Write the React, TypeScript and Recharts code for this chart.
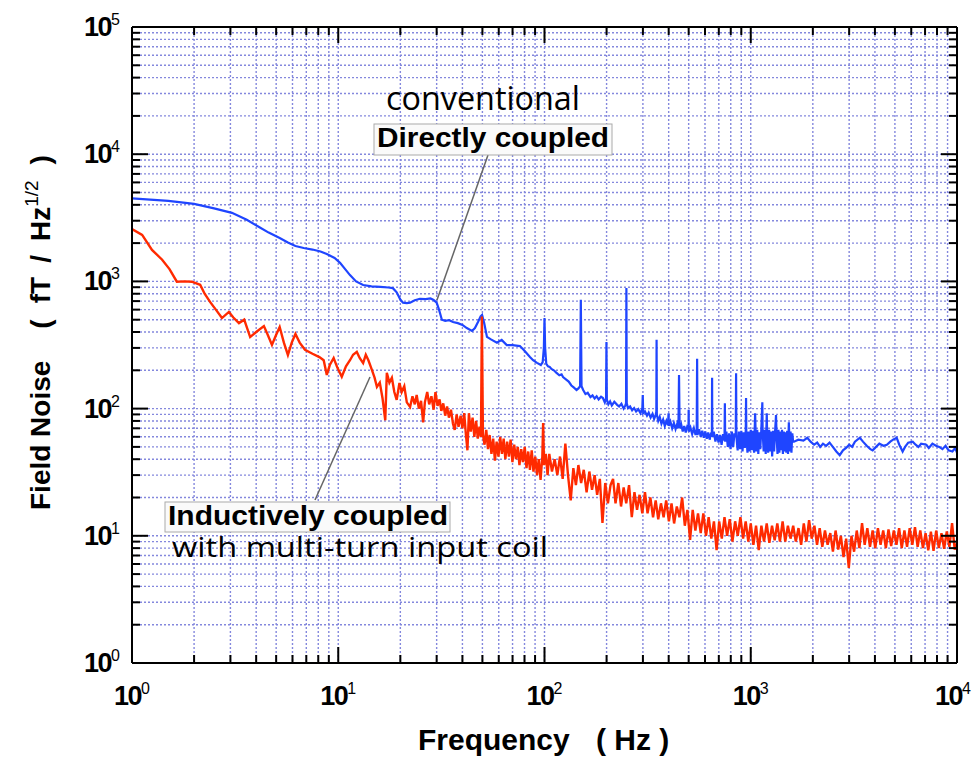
import { CartesianGrid, Line, LineChart, XAxis, YAxis } from 'recharts';

// tick layout (log decades, minor ticks at 2..9)
const xDecades = [1, 10, 100, 1000];
const yDecades = [1, 10, 100, 1000, 10000];
const mantissas = [1, 2, 3, 4, 5, 6, 7, 8, 9];
const xMajor = [1, 10, 100, 1000, 10000];
const yMajor = [1, 10, 100, 1000, 10000, 100000];

// conventional / directly coupled  [Hz, fT/Hz^1/2]
const blueLow: [number, number][] = [
  [1, 4500], [1.5, 4300], [2.0, 4070], [2.5, 3750], [3.05, 3460], [3.6, 3050], [4.13, 2680],
  [4.6, 2420], [5.2, 2190], [5.7, 2020], [6.2, 1900], [6.8, 1830], [7.5, 1780], [8.2, 1720],
  [8.8, 1640], [9.6, 1530], [10.2, 1400], [10.8, 1250], [11.4, 1120], [12.2, 1000], [13.2, 936],
  [14.5, 915], [16, 905], [17.5, 895], [18.4, 885], [19.2, 820], [20, 720], [20.6, 680],
  [21.5, 675], [22.3, 680], [23.5, 710], [24.9, 730], [26.5, 725], [28, 735], [29, 715],
  [30, 680], [30.8, 600], [31.8, 500], [33, 490], [34.5, 495], [36, 480], [38, 470], [40, 455],
  [42, 430], [44.5, 408], [46, 430], [47.6, 480], [49, 530], [49.8, 545], [51, 470], [52.6, 366],
  [55, 350], [58.8, 330], [62, 347], [65.6, 316], [70, 315], [76, 310], [80, 285], [85, 255],
  [88, 240], [92, 229],
];

const blueMid: [number, number][] = [
  [96, 220], [98, 232], [99.3, 300], [100, 515], [100.7, 300], [102, 225], [104, 215], [106, 213],
  [108, 205], [111, 200], [114, 192], [118, 183], [121, 186], [123, 177], [127, 170], [131, 163],
  [135, 152], [139, 146], [143, 140], [146, 144], [148.8, 150], [150, 716], [151.2, 150], [154, 140],
  [158, 130], [162, 133], [167, 123], [171, 127], [175, 120], [179, 125], [183, 118], [188, 124],
  [192, 121], [196, 112], [198.8, 120], [199.7, 334], [200.6, 118], [204, 108], [208, 114],
  [212, 106], [218, 113], [225, 107], [230, 104], [236, 109], [242, 100], [246, 105], [248.5, 110],
  [249.5, 888], [250.5, 110], [254, 101], [260, 104], [266, 97], [272, 101], [278, 95], [285, 99],
  [292, 92], [298, 100], [299.5, 128], [301, 92], [307, 95], [314, 88], [320, 93], [327, 85],
  [334, 91], [340, 83], [346, 89], [348.5, 95], [349.5, 347], [350.5, 90], [356, 80], [362, 86],
  [369, 76], [376, 82], [383, 73], [390, 80], [397, 74], [399.5, 92], [401, 73], [408, 79],
  [416, 70], [424, 77], [432, 69], [440, 76], [446, 70], [449, 184], [452, 70], [460, 75],
  [468, 66], [476, 73], [484, 65], [492, 72], [499, 70], [500, 98], [501, 66], [510, 71], [520, 63],
  [530, 70], [540, 62], [547, 68], [549.5, 246], [552, 62], [562, 69], [572, 60], [582, 67],
  [592, 59], [602, 66], [612, 58], [622, 65], [632, 57], [642, 64], [648, 65], [649.5, 175],
  [651, 60], [662, 66], [674, 55], [686, 63], [698, 54], [710, 62], [722, 52], [734, 63], [746, 56],
  [749, 110], [752, 55], [762, 66], [774, 50], [786, 64], [798, 48], [810, 66], [822, 50], [834, 64],
  [846, 60], [849, 190], [852, 60], [864, 47], [876, 66], [888, 48], [900, 67], [912, 46], [924, 65],
  [936, 49], [946, 68], [949, 121], [952, 62], [964, 45], [976, 66], [988, 46], [1000, 68],
  [1012, 47], [1025, 67], [1038, 45], [1050, 92], [1062, 46], [1075, 68], [1088, 44], [1100, 65],
  [1112, 48], [1125, 68], [1138, 112], [1142, 66], [1155, 46], [1168, 68], [1182, 44], [1196, 92],
  [1200, 65], [1214, 45], [1228, 68], [1242, 46], [1256, 66], [1270, 42], [1284, 67], [1298, 46],
  [1312, 66], [1326, 89], [1334, 62], [1348, 44], [1362, 68], [1376, 45], [1390, 66], [1404, 47],
  [1418, 68], [1432, 44], [1446, 66], [1460, 46], [1474, 65], [1488, 45], [1502, 67], [1516, 44],
  [1530, 78], [1545, 46], [1560, 66], [1575, 45], [1590, 64], [1605, 55],
];

const blueHigh: [number, number][] = [
  [1620, 55], [1700, 57], [1800, 56], [1880, 59], [1950, 55], [2030, 52], [2100, 54], [2170, 50],
  [2240, 53], [2320, 51], [2410, 54], [2500, 50], [2600, 46], [2700, 43], [2800, 47], [2900, 49],
  [3000, 52], [3100, 50], [3200, 55], [3380, 59], [3500, 55], [3650, 51], [3800, 48], [3900, 47],
  [4050, 50], [4200, 53], [4400, 51], [4570, 52], [4750, 55], [4900, 57], [5100, 59], [5250, 52],
  [5450, 46], [5600, 50], [5800, 54], [6100, 55], [6300, 52], [6500, 50], [6700, 53], [7100, 52],
  [7300, 49], [7600, 53], [7900, 51], [8200, 50], [8500, 48], [8800, 51], [9100, 47], [9500, 46],
  [9800, 49], [10000, 45],
];

// inductively coupled, multi-turn input coil
const redLow: [number, number][] = [
  [1, 2580], [1.12, 2320], [1.25, 1770], [1.4, 1480], [1.52, 1250], [1.65, 995], [1.8, 1000],
  [1.95, 995], [2.14, 940], [2.25, 800], [2.39, 690], [2.55, 600], [2.73, 515], [2.95, 575],
  [3.1, 520], [3.3, 470], [3.5, 500], [3.74, 365], [4.0, 400], [4.36, 445], [4.55, 380],
  [4.77, 317], [5.0, 380], [5.2, 438], [5.45, 330], [5.7, 264], [5.95, 330], [6.2, 386],
  [6.5, 330], [6.9, 290], [7.5, 270], [8.1, 254], [8.5, 240], [8.8, 184], [9.1, 220], [9.5, 250],
  [9.9, 210], [10.4, 178], [10.9, 215], [11.4, 240], [11.8, 265],
];

const redMid: [number, number][] = [
  [12.3, 279], [12.7, 250], [13.2, 228], [13.6, 265], [14, 240], [14.5, 205], [15, 175],
  [15.4, 148], [15.9, 160], [16.4, 120], [16.9, 81], [17.2, 191], [17.7, 160], [18.2, 175],
  [18.7, 135], [19.2, 117], [19.8, 159], [20.3, 135], [20.9, 150], [21.5, 112], [22.3, 103],
  [22.9, 125], [23.5, 108], [24, 128], [24.6, 100], [25.2, 115], [25.8, 78], [26.3, 112], [27, 135],
  [27.6, 108], [28.3, 125], [29, 98], [29.6, 135], [30.3, 105], [31, 118], [31.6, 96], [32.3, 110],
  [33, 88], [33.7, 104], [34.4, 85], [35.2, 98], [36, 76], [36.7, 68], [37.5, 90], [38.3, 72],
  [39.2, 88], [40, 70], [40.8, 92], [41.6, 62], [42.3, 47], [43, 92], [43.9, 66], [44.8, 85],
  [45.7, 60], [46.6, 80], [47.5, 58], [48.4, 72], [49.2, 60], [49.7, 530], [50.3, 62], [51.2, 52],
  [52.2, 68], [53.2, 48], [54.2, 62], [55.3, 44], [56.4, 58], [57.5, 39], [58.6, 55], [59.8, 42],
  [61, 60], [62.2, 44], [63.4, 58], [64.6, 40], [65.9, 55], [67.2, 42], [68.5, 57], [69.9, 38],
  [71.3, 52], [72.7, 40], [74.2, 50], [75.6, 36], [77.1, 48], [78.6, 38], [80.2, 50], [81.8, 34],
  [83.4, 46], [85, 33], [86.7, 47], [88.4, 32], [90.2, 42], [92, 30], [93.8, 40], [95.7, 27.5],
  [97.6, 42], [98.5, 77], [99.5, 36], [101.5, 44], [103.5, 30],
];

const redHigh: [number, number][] = [
  [105.5, 44], [108.7, 32], [112, 40], [115.4, 30], [118.9, 42], [122.5, 28], [126.2, 53], [130, 30],
  [134, 19], [138, 34], [142, 25], [146, 36], [150.5, 26], [155, 33], [160, 22], [165, 32], [170, 23],
  [175, 30], [180, 21], [185.5, 28], [191, 12.6], [197, 26], [203, 18], [209, 25], [215, 28],
  [221, 18], [228, 26], [235, 17], [242, 24], [249, 18], [257, 25], [265, 14], [273, 22], [281, 16],
  [289, 21], [298, 15], [307, 22], [316, 15], [326, 20], [336, 14], [346, 19], [356, 13.5], [367, 18],
  [378, 14], [389, 19], [401, 13], [413, 18], [425, 12.5], [438, 17], [451, 14], [465, 20], [479, 12],
  [493, 16], [508, 9.3], [523, 16], [539, 11], [555, 15], [572, 10.5], [589, 15], [607, 10],
  [625, 14], [644, 9.5], [663, 13], [683, 7.7], [703, 13], [724, 9.5], [746, 14], [768, 10],
  [791, 13.5], [815, 9], [840, 13], [865, 10], [891, 14], [918, 9.5], [945, 13], [973, 9],
  [1000, 12.5], [1030, 8.5], [1061, 12], [1093, 7.7], [1126, 12], [1160, 9], [1195, 12.5],
  [1231, 8.8], [1268, 12], [1306, 9.2], [1345, 12.5], [1385, 9], [1427, 13], [1470, 9], [1514, 12],
  [1559, 9.5], [1606, 12], [1654, 9], [1704, 11.5], [1755, 8.5], [1808, 12.5], [1862, 9],
  [1918, 13.3], [1975, 9.5], [2035, 12], [2096, 8.5], [2159, 11.5], [2223, 8.2], [2290, 11],
  [2359, 8.5], [2430, 10.5], [2503, 7.5], [2578, 11], [2655, 7.8], [2735, 10], [2817, 6.8],
  [2901, 9.5], [2988, 5.6], [3078, 10], [3170, 7.5], [3265, 11], [3363, 8], [3464, 12.6], [3568, 8.5],
  [3675, 11.5], [3785, 8.2], [3899, 11], [4016, 8], [4136, 11.5], [4260, 8.5], [4388, 11], [4520, 8],
  [4655, 11.2], [4795, 8.3], [4939, 11], [5087, 8.5], [5240, 11.5], [5397, 8], [5559, 11],
  [5726, 8.2], [5897, 11.5], [6074, 8.5], [6256, 11.7], [6444, 8.2], [6638, 11], [6837, 8],
  [7042, 10.5], [7253, 7.7], [7471, 10.8], [7695, 7.6], [7926, 11], [8164, 8], [8409, 10.5],
  [8661, 7.9], [8921, 10.8], [9189, 8.2], [9464, 12.6], [9748, 7.8], [10000, 8.8],
];

const toRows = (pts: [number, number][]) => pts.map(([f, v]) => ({ f, v }));
const blueData = toRows([...blueLow, ...blueMid, ...blueHigh]);
const redData = toRows([...redLow, ...redMid, ...redHigh]);

const xTicks = [...xDecades.flatMap((d) => mantissas.map((m) => d * m)), 10000];
const yTicks = [...yDecades.flatMap((d) => mantissas.map((m) => d * m)), 100000];

const BLUE = '#1f45ff';
const RED = '#ff2a00';
const GRID = '#8488dd';
const LABEL_FONT = "'Liberation Sans', Arial, sans-serif";

const Pow = ({ x, y, v, anchor }: { x: number; y: number; v: number; anchor: 'end' | 'middle' }) => (
  <text x={x} y={y} textAnchor={anchor} fontFamily={LABEL_FONT} fill="#000">
    <tspan fontSize={27} fontWeight="bold" letterSpacing={-1.5}>10</tspan>
    <tspan fontSize={16} dy={-11}>{Math.round(Math.log10(v))}</tspan>
  </text>
);

const LeftTick = (props: any) => {
  const { x, y, payload } = props;
  const major = yMajor.includes(payload.value);
  return (
    <g>
      <line x1={x} x2={x + (major ? 16 : 8)} y1={y} y2={y} stroke="#000" strokeWidth={2} />
      {major && <Pow x={x - 12} y={y + 9} v={payload.value} anchor="end" />}
    </g>
  );
};

const RightTick = (props: any) => {
  const { x, y, payload } = props;
  const major = yMajor.includes(payload.value);
  return <line x1={x} x2={x - (major ? 16 : 8)} y1={y} y2={y} stroke="#000" strokeWidth={2} />;
};

const BottomTick = (props: any) => {
  const { x, y, payload } = props;
  const major = xMajor.includes(payload.value);
  // the last decade label would run off the page edge, so pin it to the right
  const last = payload.value === 10000;
  return (
    <g>
      <line x1={x} x2={x} y1={y} y2={y - (major ? 16 : 8)} stroke="#000" strokeWidth={2} />
      {major && (
        <Pow x={last ? 971 : x} y={y + 42} v={payload.value} anchor={last ? 'end' : 'middle'} />
      )}
    </g>
  );
};

const TopTick = (props: any) => {
  const { x, y, payload } = props;
  const major = xMajor.includes(payload.value);
  return <line x1={x} x2={x} y1={y} y2={y + (major ? 16 : 8)} stroke="#000" strokeWidth={2} />;
};

const axisLine = { stroke: '#000', strokeWidth: 2 };

const App = () => {
  return (
    <div style={{ position: 'absolute', left: 0, top: 0, width: 973, height: 757 }}>
      <LineChart width={973} height={757} margin={{ top: 26, right: 15, bottom: 93, left: 131 }}>
        <CartesianGrid stroke={GRID} strokeDasharray="2 2" strokeWidth={1.4} />
        <XAxis
          dataKey="f"
          type="number"
          scale="log"
          domain={[1, 10000]}
          ticks={xTicks}
          interval={0}
          height={1}
          tickSize={0}
          tickMargin={0}
          tickLine={false}
          tick={<BottomTick />}
          axisLine={axisLine}
          allowDataOverflow
        />
        <XAxis
          xAxisId="top"
          orientation="top"
          dataKey="f"
          type="number"
          scale="log"
          domain={[1, 10000]}
          ticks={xTicks}
          interval={0}
          height={1}
          tickSize={0}
          tickMargin={0}
          tickLine={false}
          tick={<TopTick />}
          axisLine={axisLine}
          allowDataOverflow
        />
        <YAxis
          type="number"
          scale="log"
          domain={[1, 100000]}
          ticks={yTicks}
          interval={0}
          width={1}
          tickSize={0}
          tickMargin={0}
          tickLine={false}
          tick={<LeftTick />}
          axisLine={axisLine}
          allowDataOverflow
        />
        <YAxis
          yAxisId="right"
          orientation="right"
          type="number"
          scale="log"
          domain={[1, 100000]}
          ticks={yTicks}
          interval={0}
          width={1}
          tickSize={0}
          tickMargin={0}
          tickLine={false}
          tick={<RightTick />}
          axisLine={axisLine}
          allowDataOverflow
        />
        <Line
          data={blueData}
          dataKey="v"
          type="linear"
          stroke={BLUE}
          strokeWidth={2.2}
          dot={false}
          activeDot={false}
          isAnimationActive={false}
        />
        <Line
          data={redData}
          dataKey="v"
          type="linear"
          stroke={RED}
          strokeWidth={2.4}
          dot={false}
          activeDot={false}
          isAnimationActive={false}
        />
      </LineChart>
      <svg
        width={973}
        height={757}
        style={{ position: 'absolute', left: 0, top: 0, pointerEvents: 'none' }}
      >
        {/* axis titles */}
        <text x={418} y={750} fontFamily={LABEL_FONT} fontWeight="bold" fontSize={30}>Frequency</text>
        <text x={596} y={750} fontFamily={LABEL_FONT} fontWeight="bold" fontSize={30}>( Hz )</text>
        <text
          transform="translate(50,510) rotate(-90)"
          fontFamily={LABEL_FONT}
          fontWeight="bold"
          fontSize={28}
        >
          <tspan>Field Noise</tspan>
          <tspan dx={32}>(</tspan>
          <tspan dx={16}>fT</tspan>
          <tspan dx={14}>/</tspan>
          <tspan dx={14}>Hz</tspan>
          <tspan fontSize={19} fontWeight="normal" dy={-12}>1/2</tspan>
          <tspan dx={16} dy={12}>)</tspan>
        </text>

        {/* directly coupled annotation */}
        <line x1={488} y1={155} x2={437} y2={300} stroke="#666" strokeWidth={1.5} />
        <text x={386} y={110} fontFamily="'Open Sans', sans-serif" fontSize={32} textLength={194} lengthAdjust="spacingAndGlyphs">
          conventional
        </text>
        <rect x={374} y={124} width={238} height={31} fill="#fafafa" stroke="#aaa" strokeWidth={1} />
        <text x={377} y={147} fontFamily={LABEL_FONT} fontWeight="bold" fontSize={27} textLength={232} lengthAdjust="spacingAndGlyphs">
          Directly coupled
        </text>

        {/* inductively coupled annotation */}
        <line x1={315} y1={500} x2={370} y2={377} stroke="#666" strokeWidth={1.5} />
        <rect x={165} y={502} width={285} height={30} fill="#fafafa" stroke="#aaa" strokeWidth={1} />
        <text x={168} y={525} fontFamily={LABEL_FONT} fontWeight="bold" fontSize={27} textLength={280} lengthAdjust="spacingAndGlyphs">
          Inductively coupled
        </text>
        <text x={172} y={557} fontFamily="'Open Sans', sans-serif" fontSize={27} textLength={376} lengthAdjust="spacingAndGlyphs">
          with multi-turn input coil
        </text>
      </svg>
    </div>
  );
};

export default App;
